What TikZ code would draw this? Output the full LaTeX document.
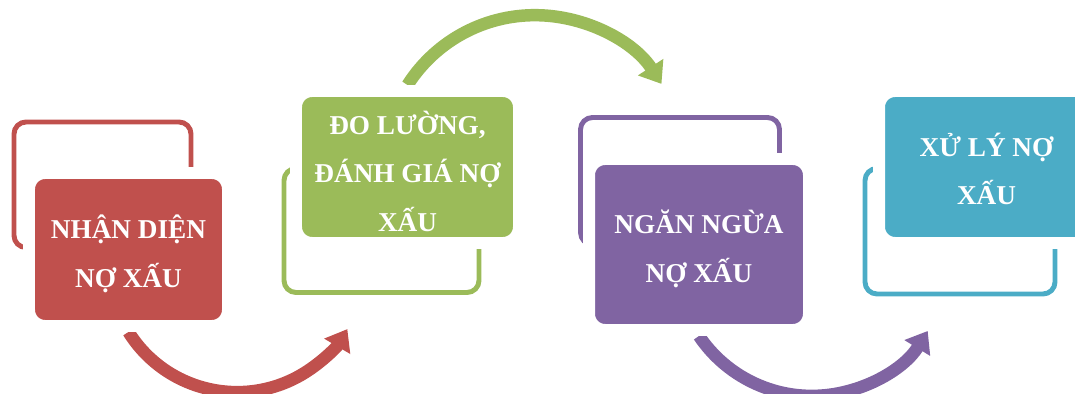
\documentclass[tikz,border=0pt]{standalone}
\usepackage{fontspec}
\setmainfont{Liberation Serif}
\usetikzlibrary{arrows.meta,backgrounds}

\definecolor{nxred}{HTML}{C0504D}
\definecolor{nxgreen}{HTML}{9BBB59}
\definecolor{nxpurple}{HTML}{8064A2}
\definecolor{nxteal}{HTML}{4BACC6}

\begin{document}
\begin{tikzpicture}[x=0.02cm, y=-0.02cm,
  backframe/.style={line width=2.8pt, rounded corners=0.24cm},
  box/.style={rectangle, rounded corners=0.32cm, draw=white, line width=6.8pt, inner sep=0pt},
  boxtext/.style={text=white, align=center, inner sep=0pt,
    font=\fontsize{15.5}{27.5}\selectfont\bfseries},
  flow/.style={line width=7.1pt, -{Triangle[length=0.4cm,width=0.58cm]}}]

\useasboundingbox (0,0) rectangle (1075,394);

% Outline frames behind the boxes
\draw[backframe, nxred] (14,122) rectangle (191,247.5);
\draw[backframe, nxgreen] (284,168.5) rectangle (479,292.5);
\draw[backframe, nxpurple] (580.5,117.5) rectangle (779.5,244.5);
\draw[backframe, nxteal] (865,168.5) rectangle (1055,294);

% Filled boxes
\node[box, fill=nxred, minimum width=3.98cm, minimum height=3.06cm] (n1) at (128.5,249.5) {};
\node[box, fill=nxgreen, minimum width=4.46cm, minimum height=3.04cm] (n2) at (407.5,167) {};
\node[box, fill=nxpurple, minimum width=4.40cm, minimum height=3.42cm] (n3) at (699,244.5) {};
\node[box, fill=nxteal, minimum width=4.30cm, minimum height=3.04cm] (n4) at (986.5,167) {};

% Texts
\node[boxtext] (t1) at ([yshift=-2.4pt]n1.center) {NHẬN DIỆN\\NỢ XẤU};
\node[boxtext] (t2) at ([yshift=-2.4pt]n2.center) {ĐO LƯỜNG,\\ĐÁNH GIÁ NỢ\\XẤU};
\node[boxtext] (t3) at ([yshift=-2.4pt]n3.center) {NGĂN NGỪA\\NỢ XẤU};
\node[boxtext] (t4) at ([yshift=-1.2pt]n4.center) {XỬ LÝ NỢ\\XẤU};

% Curved arrows from box to box
\begin{pgfonlayer}{background}
\draw[flow, nxred] (n1.south) arc[start angle=148, end angle=30.5, radius=128];
\draw[flow, nxgreen] (n2.north) arc[start angle=-147.5, end angle=-33, radius=151];
\draw[flow, nxpurple] (n3.south) arc[start angle=146, end angle=31.5, radius=136];
\end{pgfonlayer}

\end{tikzpicture}
\end{document}
